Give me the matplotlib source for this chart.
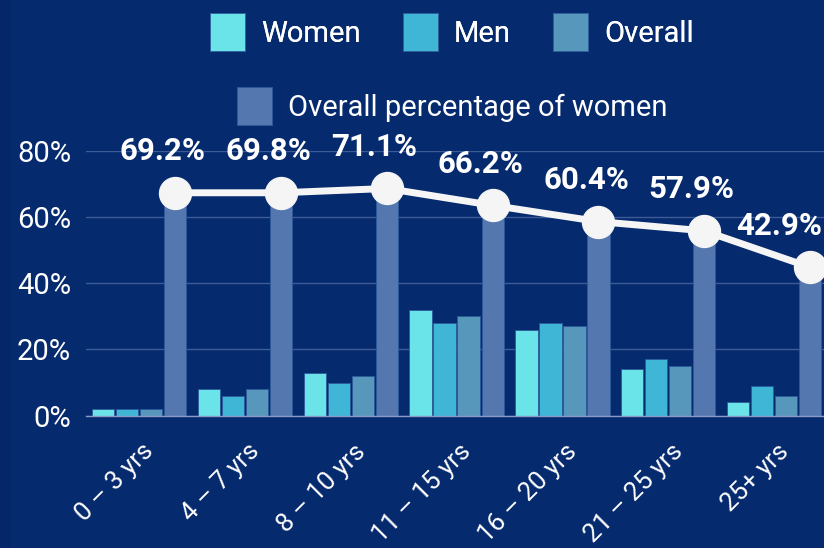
import numpy as np
import matplotlib
matplotlib.use("Agg")
import matplotlib.pyplot as plt
from matplotlib.patches import Patch, Rectangle

# data
categories = ["0 – 3 yrs", "4 – 7 yrs", "8 – 10 yrs", "11 – 15 yrs",
              "16 – 20 yrs", "21 – 25 yrs", "25+ yrs"]
women = [2, 8, 13, 32, 26, 14, 4]
men = [2, 6, 10, 28, 28, 17, 9]
overall = [2, 8, 12, 30, 27, 15, 6]
pct_women = [69.2, 69.8, 71.1, 66.2, 60.4, 57.9, 42.9]
pct_line = [67.3, 67.3, 68.6, 63.5, 58.6, 55.8, 44.8]
yticks = [0, 20, 40, 60, 80]

BG = "#062a6e"
C_WOMEN = "#6ae4e8"
C_MEN = "#40b6d6"
C_OVERALL = "#5897bc"
C_PCT = "#5577af"

plt.rcParams["font.family"] = ["Roboto", "DejaVu Sans"]

fig = plt.figure(figsize=(8.24, 5.48), dpi=100, facecolor=BG)
# slightly darker strip on the left edge
fig.patches.append(Rectangle((0, 0), 10 / 824, 1, transform=fig.transFigure,
                             facecolor="#05276a", edgecolor="none", zorder=0))

ax = fig.add_axes([86.3 / 824, 132.3 / 548, 740.7 / 824, 265.0 / 548])
ax.set_facecolor(BG)

x = np.arange(len(categories))
step = 0.227
w = 0.211
series = [(women, C_WOMEN), (men, C_MEN), (overall, C_OVERALL), (pct_women, C_PCT)]
for i, (vals, col) in enumerate(series):
    ax.bar(x + (i - 1.5) * step, vals, width=w, color=col,
           edgecolor="#2c5a9a", linewidth=0.6, zorder=2)

xl = x + 1.5 * step
ax.plot(xl, pct_line, color="#f5f5f5", lw=5, marker="o", ms=23,
        markerfacecolor="#f5f5f5", markeredgecolor="#f5f5f5", zorder=4, clip_on=False)

for i, (xi, yi, lab) in enumerate(zip(xl, pct_line, pct_women)):
    if i == len(xl) - 1:
        ax.annotate(f"{lab}%", (xi, yi), xytext=(9, 30), textcoords="offset points",
                    ha="right", va="center", fontsize=22.5, fontweight="bold",
                    color="white", zorder=5, annotation_clip=False)
    else:
        ax.annotate(f"{lab}%", (xi, yi), xytext=(-9, 30), textcoords="offset points",
                    ha="center", va="center", fontsize=22.5, fontweight="bold",
                    color="white", zorder=5, annotation_clip=False)

ax.set_xlim(-0.5, len(categories) - 0.5)
ax.set_ylim(0, 80)
ax.set_yticks(yticks)
ax.set_yticklabels([f"{t}%" for t in yticks], fontsize=21, color="white")
ax.yaxis.grid(True, color="#3d5c97", lw=1, zorder=0)
ax.set_axisbelow(True)
ax.tick_params(axis="y", length=0, pad=11)
ax.tick_params(axis="x", length=0, pad=17)
ax.set_xticks(x + 0.02)
ax.set_xticklabels(categories, rotation=45, ha="right", va="top",
                   rotation_mode="anchor", fontsize=18.5, color="white")
for s in ["top", "right", "left"]:
    ax.spines[s].set_visible(False)
ax.spines["bottom"].set_color("#8a9cc4")
ax.spines["bottom"].set_linewidth(1)

h1 = [Patch(facecolor=C_WOMEN, edgecolor="#2c5a9a", lw=0.6, label="Women"),
      Patch(facecolor=C_MEN, edgecolor="#2c5a9a", lw=0.6, label="Men"),
      Patch(facecolor=C_OVERALL, edgecolor="#2c5a9a", lw=0.6, label="Overall")]
h2 = [Patch(facecolor=C_PCT, edgecolor="#2c5a9a", lw=0.6, label="Overall percentage of women")]

leg1 = fig.legend(handles=h1, loc="center", bbox_to_anchor=(452 / 824, 1 - 32 / 548),
                  ncol=3, frameon=False, fontsize=21, labelcolor="white",
                  handlelength=1.2, handleheight=1.6, handletextpad=0.55, columnspacing=1.45)
fig.add_artist(leg1)
fig.legend(handles=h2, loc="center", bbox_to_anchor=(452 / 824, 1 - 106 / 548),
           frameon=False, fontsize=21, labelcolor="white",
           handlelength=1.2, handleheight=1.6, handletextpad=0.55)

fig.savefig("out.png", dpi=100, facecolor=BG)
